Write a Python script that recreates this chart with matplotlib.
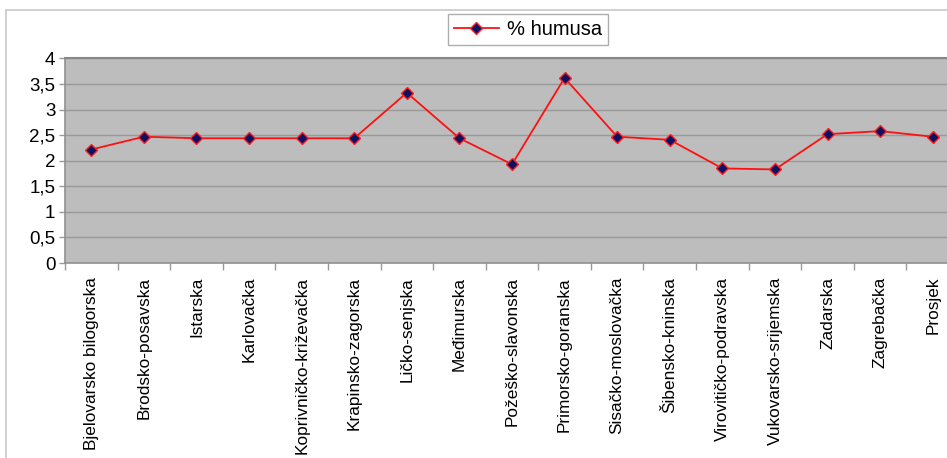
import matplotlib
matplotlib.use("Agg")
import matplotlib.pyplot as plt
from matplotlib.patches import Rectangle
from matplotlib.ticker import FixedLocator, NullFormatter

plt.rcParams['font.family'] = ['Liberation Sans', 'DejaVu Sans']

counties = ['Bjelovarsko bilogorska', 'Brodsko-posavska', 'Istarska', 'Karlovačka',
            'Koprivničko-križevačka', 'Krapinsko-zagorska', 'Ličko-senjska', 'Međimurska',
            'Požeško-slavonska', 'Primorsko-goranska', 'Sisačko-moslovačka', 'Šibensko-kninska',
            'Virovitičko-podravska', 'Vukovarsko-srijemska', 'Zadarska', 'Zagrebačka', 'Prosjek']
humus = [2.22, 2.47, 2.44, 2.44, 2.44, 2.44, 3.33, 2.44, 1.93, 3.62,
         2.47, 2.41, 1.85, 1.83, 2.52, 2.58, 2.47]

fig = plt.figure(figsize=(9.47, 4.58), dpi=100)

# outer chart frame (Excel style), right and bottom parts cut off
fig.patches.append(Rectangle((6 / 947, -0.1), 1.2, (458 - 10) / 458 + 0.1,
                             transform=fig.transFigure, fill=False,
                             edgecolor='#c8c8c8', linewidth=1.2))

ax = fig.add_axes([65 / 947, (458 - 263) / 458, (959 - 65) / 947, (263 - 58.5) / 458])
ax.set_facecolor('#bdbdbd')

x = list(range(len(counties)))
ax.plot(x, humus, color='#ff1010', linewidth=1.3, marker='D', markersize=6.5,
        markerfacecolor='#101060', markeredgecolor='#ff2020', markeredgewidth=1.0,
        label='% humusa')

ax.set_xlim(-0.5, len(counties) - 0.5)
ax.set_ylim(0, 4)
ax.set_yticks([0, 0.5, 1, 1.5, 2, 2.5, 3, 3.5, 4])
ax.set_yticklabels(['0', '0,5', '1', '1,5', '2', '2,5', '3', '3,5', '4'], fontsize=13.5)
ax.yaxis.grid(True, color='#999999', linewidth=1.0)
ax.set_axisbelow(True)

ax.set_xticks(x)
ax.set_xticklabels(counties, rotation=90, fontsize=12.4)
ax.tick_params(axis='x', which='major', length=0, pad=10)
ax.xaxis.set_minor_locator(FixedLocator([i - 0.5 for i in range(len(counties) + 1)]))
ax.xaxis.set_minor_formatter(NullFormatter())
ax.tick_params(axis='x', which='minor', length=5, color='#999999', width=1)
ax.tick_params(axis='y', length=4, color='#999999', width=1, pad=3)

for side in ['left', 'bottom']:
    ax.spines[side].set_color('#909090')
    ax.spines[side].set_linewidth(1.2)
ax.spines['top'].set_color('#888888')
ax.spines['top'].set_linewidth(1.5)
ax.spines['right'].set_visible(False)

leg = fig.legend(loc='center', bbox_to_anchor=(528 / 947, (458 - 29.5) / 458),
                 fontsize=14.5, frameon=True, fancybox=False, edgecolor='#999999',
                 handlelength=2.2, borderpad=0.3, handletextpad=0.4)
leg.get_frame().set_linewidth(1.0)

fig.savefig('out.png', dpi=100)
